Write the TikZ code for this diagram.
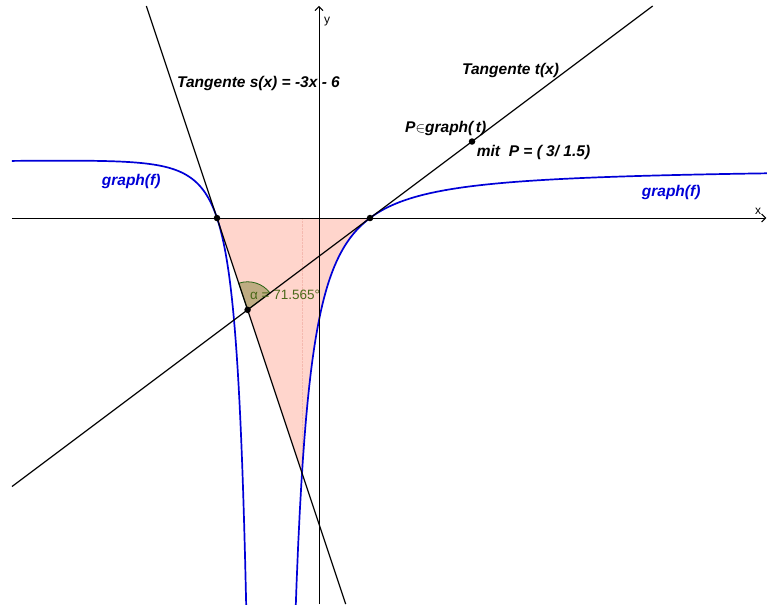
\documentclass[tikz,border=0pt]{standalone}
\usepackage{fontspec}
\setmainfont{Liberation Sans}
\usetikzlibrary{arrows.meta,calc}
\definecolor{curveblue}{RGB}{0,0,215}
\definecolor{areapink}{RGB}{255,213,204}
\definecolor{dotpink}{RGB}{245,185,175}
\definecolor{anglefill}{RGB}{190,172,130}
\definecolor{angleedge}{RGB}{40,100,20}
\definecolor{angletext}{RGB}{75,105,25}

\begin{document}
\begin{tikzpicture}[
    x=51pt, y=51pt,
    declare function={f(\x)=(\x+2)*(\x-1)/((\x+1)*(\x+1));},
    dot/.style={circle, fill=black, inner sep=0pt, minimum size=6.5pt},
    lbl/.style={font=\fontsize{15.5}{18}\selectfont\bfseries\itshape, inner sep=0pt, anchor=west},
    axlbl/.style={font=\fontsize{12}{14}\selectfont, inner sep=0pt},
    axis/.style={-{Straight Barb[length=4pt,width=8pt]}, line width=1pt},
    tline/.style={line width=1.2pt},
    graph/.style={curveblue, line width=1.7pt}
]
\useasboundingbox (-6.255,-7.569) rectangle (8.784,4.275);
\coordinate (A) at (-2,0);
\coordinate (B) at (1,0);
\coordinate (S) at (-1.4,-1.8);
\coordinate (P) at (3,1.5);
\coordinate (Q) at (-1/3,-5);
\coordinate (Qtop) at (-1/3,0);
\coordinate (sTop) at (-3.386,4.157);
\coordinate (sBot) at (0.523,-7.569);
\coordinate (tLow) at (-6.02,-5.265);
\coordinate (tHigh) at (6.543,4.157);
\coordinate (xL) at (-6.02,0);
\coordinate (xR) at (8.77,0);
\coordinate (yB) at (0,-7.569);
\coordinate (yT) at (0,4.16);

\fill[areapink] (A) -- (Q) -- plot[domain=-1/3:1, samples=80] (\x,{f(\x)}) -- cycle;
\draw[dotpink, densely dotted] (Qtop) -- (Q);
\filldraw[fill=anglefill, draw=angleedge, line width=0.8pt]
    (S) -- ++(36.87:0.55) arc[start angle=36.87, end angle=108.43, radius=0.55] -- cycle;

\begin{scope}
\clip (-6.02,-7.569) rectangle (8.784,4.157);
\draw[graph] plot[domain=-6.02:-1.41, samples=250] (\x,{f(\x)});
\draw[graph] plot[domain=-0.47:8.784, samples=300] (\x,{f(\x)});
\end{scope}

\draw[axis] (xL) -- (xR);
\draw[axis] (yB) -- (yT);
\node[axlbl] (xlab) at (8.608,0.124) {x};
\node[axlbl] (ylab) at (0.157,3.85) {y};

\draw[tline] (sTop) -- (sBot);
\draw[tline] (tLow) -- (tHigh);

\node[dot] (nA) at (A) {};
\node[dot] (nB) at (B) {};
\node[dot] (nS) at (S) {};
\node[dot] (nP) at (P) {};

\node[lbl] (sLab) at (-2.784,2.647) {Tangente s(x) = -3x - 6};
\node[lbl] (tLab) at (2.804,2.902) {Tangente t(x)};
\node[lbl] (pLab) at (1.686,1.765) {P{\mdseries$\in$}graph(\,t)};
\node[lbl] (mitLab) at (3.092,1.294) {mit\ \ P = ( 3/ 1.5)};
\node[lbl, curveblue] (fLabL) at (-4.261,0.716) {graph(f)};
\node[lbl, curveblue] (fLabR) at (6.327,0.51) {graph(f)};
\node[font=\fontsize{13.5}{16}\selectfont, angletext, inner sep=0pt, anchor=west]
    (aLab) at (-1.353,-1.51) {α = 71.565°};
\end{tikzpicture}
\end{document}
